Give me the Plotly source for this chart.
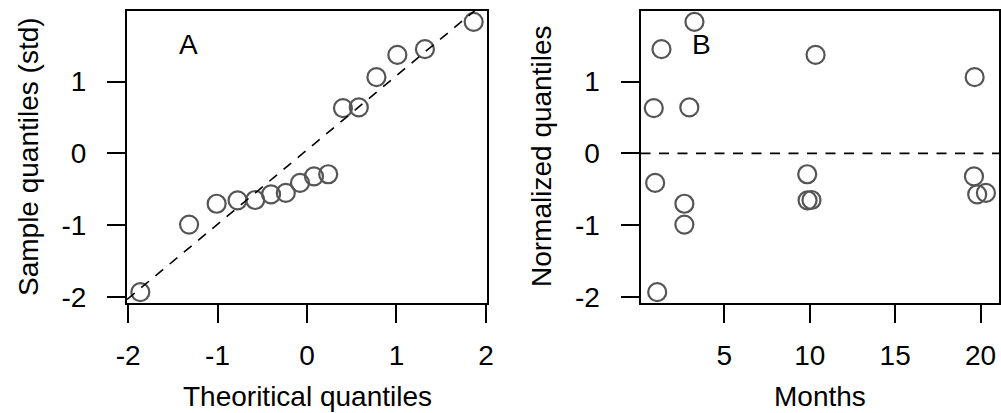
import numpy as np
import plotly.graph_objects as go

# Normal scores (x) and standardized residuals sorted ascending (y)
theoretical_q = [-1.863, -1.318, -1.010, -0.776, -0.579, -0.402, -0.237, -0.078,
                 0.078, 0.237, 0.402, 0.579, 0.776, 1.010, 1.318, 1.863]
sample_q = [-1.93, -0.99, -0.70, -0.652, -0.648, -0.57, -0.55, -0.41,
            -0.32, -0.29, 0.63, 0.64, 1.06, 1.37, 1.45, 1.83]
# Month of each observation, same order as sample_q
months = [1.07, 2.66, 2.66, 9.87, 10.10, 19.80, 20.31, 0.95,
          19.61, 9.85, 0.87, 2.95, 19.65, 10.34, 1.32, 3.25]

xticks_a = [-2, -1, 0, 1, 2]
yticks = [-2, -1, 0, 1]
xticks_b = [5, 10, 15, 20]

FONT = "Liberation Sans, Arial, Helvetica, sans-serif"
W, H = 1001, 413


def padded(vals, frac=0.04):
    lo, hi = min(vals), max(vals)
    d = (hi - lo) * frac
    return [lo - d, hi + d]


def px_x(p):
    return p / W


def px_y(p):
    return 1 - p / H


xr_a = padded(theoretical_q)
yr = padded(sample_q)
xr_b = padded(months)

# Reference line through the first and third quartiles
q1, q3 = np.quantile(sample_q, [0.25, 0.75])
z1, z3 = -0.6744898, 0.6744898
slope = (q3 - q1) / (z3 - z1)
intercept = q1 - slope * z1
line_x = [xr_a[0], xr_a[1]]
line_y = [intercept + slope * v for v in line_x]

marker = dict(symbol="circle-open", size=18, color="#555555",
              line=dict(width=2.2, color="#555555"))
dash = "10px,8.5px"

fig = go.Figure()
fig.add_trace(go.Scatter(x=theoretical_q, y=sample_q, mode="markers",
                         marker=marker, cliponaxis=False,
                         xaxis="x", yaxis="y", showlegend=False))
fig.add_trace(go.Scatter(x=line_x, y=line_y, mode="lines",
                         line=dict(color="black", width=1.6, dash=dash),
                         xaxis="x", yaxis="y", showlegend=False))
fig.add_trace(go.Scatter(x=months, y=sample_q, mode="markers",
                         marker=marker, cliponaxis=False,
                         xaxis="x2", yaxis="y2", showlegend=False))
fig.add_trace(go.Scatter(x=[xr_b[0], xr_b[1]], y=[0, 0], mode="lines",
                         line=dict(color="black", width=1.6, dash=dash),
                         xaxis="x2", yaxis="y2", showlegend=False))

ax_common = dict(showline=True, linecolor="black", linewidth=2, mirror=True,
                 ticks="outside", ticklen=18, tickwidth=2, tickcolor="black",
                 showgrid=False, zeroline=False, automargin=False,
                 tickfont=dict(family=FONT, size=28, color="black"))


def fmt(v):
    return str(v).replace("\u2212", "-")


y_dom = [px_y(303), px_y(11)]
fig.update_layout(
    template="none",
    width=W, height=H,
    margin=dict(l=0, r=0, t=0, b=0, pad=0),
    paper_bgcolor="white", plot_bgcolor="white",
    font=dict(family=FONT, size=28, color="black"),
    xaxis=dict(domain=[px_x(127), px_x(487)], range=xr_a, anchor="y",
               tickvals=xticks_a, ticktext=[fmt(v) for v in xticks_a],
               ticklabelstandoff=8, **ax_common),
    yaxis=dict(domain=y_dom, range=yr, anchor="x",
               tickvals=yticks, ticktext=[fmt(v) for v in yticks],
               ticklabelstandoff=15, **ax_common),
    xaxis2=dict(domain=[px_x(640.5), px_x(999.2)], range=xr_b, anchor="y2",
                tickvals=xticks_b, ticktext=[fmt(v) for v in xticks_b],
                ticklabelstandoff=8, **ax_common),
    yaxis2=dict(domain=y_dom, range=yr, anchor="x2",
                tickvals=yticks, ticktext=[fmt(v) for v in yticks],
                ticklabelstandoff=15, **ax_common),
)

title_font = dict(family=FONT, size=28, color="black")
annotations = [
    dict(text="Theoritical quantiles", x=px_x(307), y=px_y(396.5),
         xref="paper", yref="paper", xanchor="center", yanchor="middle",
         showarrow=False, font=title_font),
    dict(text="Months", x=px_x(820), y=px_y(396.5),
         xref="paper", yref="paper", xanchor="center", yanchor="middle",
         showarrow=False, font=title_font),
    dict(text="Sample quantiles (std)", x=px_x(28), y=px_y(157),
         xref="paper", yref="paper", xanchor="center", yanchor="middle",
         textangle=-90, showarrow=False, font=title_font),
    dict(text="Normalized quantiles", x=px_x(541), y=px_y(157),
         xref="paper", yref="paper", xanchor="center", yanchor="middle",
         textangle=-90, showarrow=False, font=title_font),
    dict(text="A", x=-1.32, y=1.51, xref="x", yref="y",
         xanchor="center", yanchor="middle", showarrow=False, font=title_font),
    dict(text="B", x=3.67, y=1.51, xref="x2", yref="y2",
         xanchor="center", yanchor="middle", showarrow=False, font=title_font),
]
fig.update_layout(annotations=annotations)

fig.write_html("out.html")
